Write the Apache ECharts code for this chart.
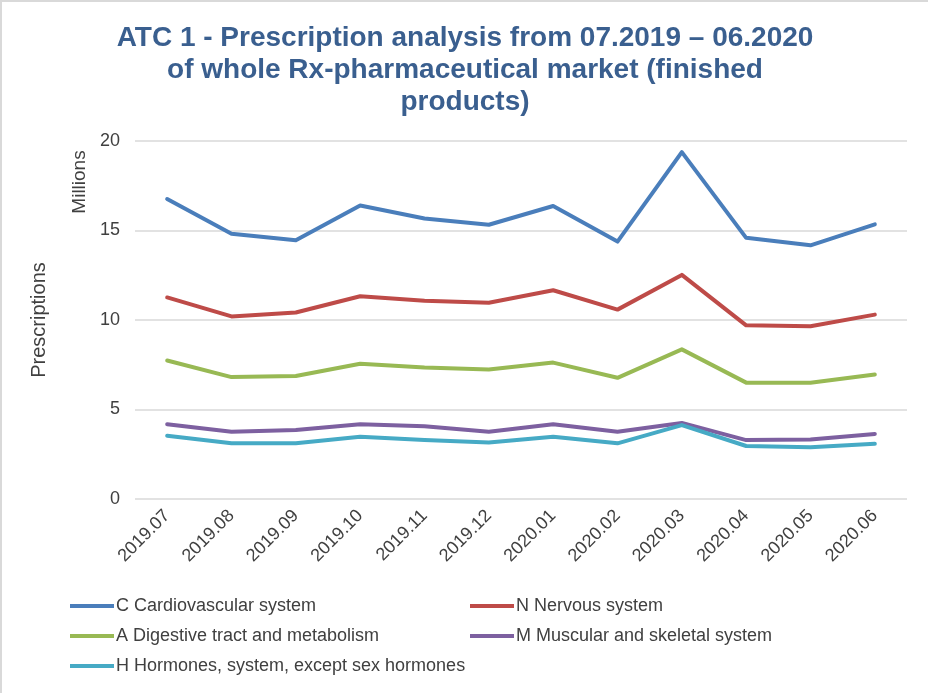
<!DOCTYPE html>
<html>
<head>
<meta charset="utf-8">
<title>ATC 1 - Prescription analysis</title>
<script src="https://cdn.jsdelivr.net/npm/echarts@6/dist/echarts.min.js"></script>
<style>
  html, body { margin: 0; padding: 0; background: #ffffff; }
  #chart { width: 928px; height: 693px; box-sizing: border-box; border-left: 2px solid #d9d9d9; border-top: 2px solid #d9d9d9; }
</style>
</head>
<body>
<div id="chart"></div>
<script>
// Months (x axis categories)
const months = ['2019.07', '2019.08', '2019.09', '2019.10', '2019.11', '2019.12',
                '2020.01', '2020.02', '2020.03', '2020.04', '2020.05', '2020.06'];

// Prescriptions per ATC group, in millions
const cardiovascular = [16.76, 14.82, 14.45, 16.40, 15.67, 15.32, 16.37, 14.38, 19.38, 14.59, 14.17, 15.34];
const nervous        = [11.26, 10.20, 10.42, 11.33, 11.07, 10.96, 11.66, 10.58, 12.52, 9.70, 9.65, 10.30];
const digestive      = [7.74, 6.81, 6.87, 7.56, 7.34, 7.24, 7.62, 6.77, 8.36, 6.50, 6.50, 6.96];
const muscular       = [4.18, 3.76, 3.85, 4.17, 4.07, 3.76, 4.17, 3.76, 4.25, 3.29, 3.33, 3.63];
const hormones       = [3.53, 3.11, 3.11, 3.48, 3.29, 3.15, 3.48, 3.11, 4.13, 2.96, 2.89, 3.08];

const seriesNames = [
  'C Cardiovascular system',
  'N Nervous system',
  'A Digestive tract and metabolism',
  'M Muscular and skeletal system',
  'H Hormones, system, except sex hormones'
];
const seriesData = [cardiovascular, nervous, digestive, muscular, hormones];
const seriesColors = ['#4a7ebb', '#be4b48', '#98b954', '#7d60a0', '#46aac5'];

// Y axis ticks
const yMin = 0, yMax = 20, yStep = 5;

const chart = echarts.init(document.getElementById('chart'), null, { renderer: 'canvas' });

const FONT = '"Liberation Sans", Arial, sans-serif';

// Legend placement: two columns, three rows
const legendSlots = [
  { left: 68, top: 595 }, { left: 468, top: 595 },
  { left: 68, top: 625 }, { left: 468, top: 625 },
  { left: 68, top: 655 }
];

const legends = seriesNames.map((name, i) => ({
  data: [name],
  left: legendSlots[i].left,
  top: legendSlots[i].top,
  icon: 'rect',
  itemWidth: 44,
  itemHeight: 4,
  itemGap: 0,
  padding: 0,
  selectedMode: false,
  textStyle: { fontFamily: FONT, fontSize: 18, color: '#404040', padding: [0, 0, 0, -3] }
}));

chart.setOption({
  animation: false,
  backgroundColor: '#ffffff',
  title: {
    text: 'ATC 1 - Prescription analysis from 07.2019 \u2013 06.2020\nof whole Rx-pharmaceutical market (finished\nproducts)',
    left: 'center',
    top: 15,
    textStyle: {
      fontFamily: FONT,
      fontSize: 28,
      fontWeight: 'bold',
      color: '#3a5f8f',
      lineHeight: 32
    }
  },
  legend: legends,
  grid: { left: 133, right: 21, top: 139, bottom: 194, containLabel: false },
  xAxis: {
    type: 'category',
    data: months,
    boundaryGap: true,
    axisLine: { show: false },
    axisTick: { show: false },
    axisLabel: {
      rotate: 45,
      margin: 14,
      fontFamily: FONT,
      fontSize: 18,
      color: '#404040',
      interval: 0
    }
  },
  yAxis: {
    type: 'value',
    min: yMin,
    max: yMax,
    interval: yStep,
    name: 'Prescriptions',
    nameLocation: 'middle',
    nameGap: 86,
    nameTextStyle: { fontFamily: FONT, fontSize: 20, color: '#404040' },
    axisLine: { show: false },
    axisTick: { show: false },
    axisLabel: { margin: 15, fontFamily: FONT, fontSize: 18, color: '#404040' },
    splitLine: { lineStyle: { color: '#d9d9d9', width: 1.5 } }
  },
  graphic: [{
    type: 'text',
    x: 78,
    y: 180,
    rotation: Math.PI / 2,
    style: {
      text: 'Millions',
      fontFamily: FONT,
      fontSize: 19,
      fill: '#404040',
      textAlign: 'center',
      textVerticalAlign: 'middle'
    }
  }],
  series: seriesNames.map((name, i) => ({
    name: name,
    type: 'line',
    data: seriesData[i],
    symbol: 'none',
    lineStyle: { width: 4, color: seriesColors[i], cap: 'round', join: 'round' },
    itemStyle: { color: seriesColors[i] }
  }))
});
</script>
</body>
</html>
